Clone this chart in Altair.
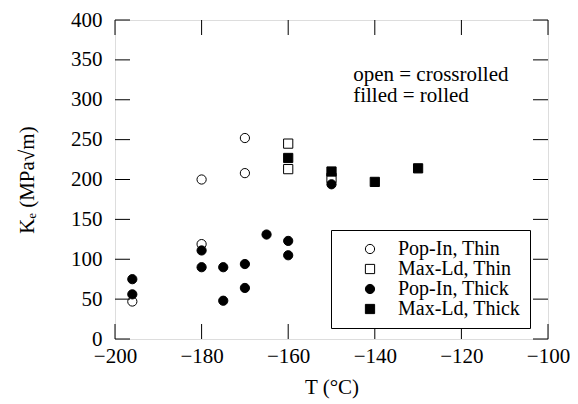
import altair as alt
import pandas as pd

# ---- data ----
pop_thin_T = [-196, -180, -180, -170, -170]
pop_thin_K = [47, 200, 119, 252, 208]
max_thin_T = [-160, -160, -150]
max_thin_K = [245, 213, 202]
pop_thick_T = [-196, -196, -180, -180, -175, -175, -170, -170, -165, -160, -160, -150]
pop_thick_K = [75, 56, 111, 90, 90, 48, 94, 64, 131, 123, 105, 194]
max_thick_T = [-160, -150, -140, -130]
max_thick_K = [227, 210, 197, 214]

series_names = ["Pop-In, Thin", "Max-Ld, Thin", "Pop-In, Thick", "Max-Ld, Thick"]
series_shapes = ["circle", "square", "circle", "square"]
series_fills = ["white", "white", "black", "black"]
series_strokes = ["black", "black", "black", "black"]

x_ticks = [-200, -180, -160, -140, -120, -100]
y_ticks = [0, 50, 100, 150, 200, 250, 300, 350, 400]

note_lines = ["open = crossrolled", "filled = rolled"]
note_T = -145
note_K = [331, 305]

rows = []
for name, Ts, Ks in zip(series_names,
                        [pop_thin_T, max_thin_T, pop_thick_T, max_thick_T],
                        [pop_thin_K, max_thin_K, pop_thick_K, max_thick_K]):
    for t, k in zip(Ts, Ks):
        rows.append({"T": t, "K": k, "series": name})
df = pd.DataFrame(rows)

W, H = 433, 319
FONT = "Liberation Serif"
FS = 21

xscale = alt.Scale(domain=[-200, -100], nice=False, zero=False)
yscale = alt.Scale(domain=[0, 400], nice=False)

x_axis = alt.Axis(values=x_ticks, title="T (°C)", orient="bottom", domain=False, ticks=False,
                  grid=False, labelPadding=6, titlePadding=10, labelFontSize=FS, titleFontSize=FS,
                  labelFont=FONT, titleFont=FONT, titleFontWeight="normal",
                  labelColor="black", titleColor="black",
                  labelOverlap=False, labelFlush=False)
y_axis = alt.Axis(values=y_ticks, title="Kₑ (MPa√m)", orient="left", domain=False, ticks=False,
                  grid=False, labelPadding=13, titlePadding=33, labelFontSize=FS, titleFontSize=FS,
                  labelFont=FONT, titleFont=FONT, titleFontWeight="normal",
                  labelColor="black", titleColor="black",
                  labelOverlap=False, labelFlush=False)

legend_kw = dict(title=None, orient="none", legendX=216, legendY=210,
                 strokeColor="black", padding=9, symbolOffset=20,
                 labelOffset=18, rowPadding=0, labelFontSize=20,
                 labelFont=FONT, labelColor="black", symbolSize=85,
                 symbolStrokeWidth=1, fillColor="white")

points = alt.Chart(df).mark_point(strokeWidth=1, size=85, opacity=1).encode(
    x=alt.X("T:Q", scale=xscale, axis=x_axis),
    y=alt.Y("K:Q", scale=yscale, axis=y_axis),
    shape=alt.Shape("series:N", scale=alt.Scale(domain=series_names, range=series_shapes),
                    legend=alt.Legend(**legend_kw)),
    fill=alt.Fill("series:N", scale=alt.Scale(domain=series_names, range=series_fills),
                  legend=alt.Legend(**legend_kw)),
    stroke=alt.Stroke("series:N", scale=alt.Scale(domain=series_names, range=series_strokes),
                      legend=alt.Legend(**legend_kw)),
)

xt = pd.DataFrame({"t": x_ticks})
yt = pd.DataFrame({"v": y_ticks})
TL = 15
bottom_ticks = alt.Chart(xt).mark_rule(color="black", strokeWidth=1).encode(
    x=alt.X("t:Q", scale=xscale, axis=None), y=alt.value(H), y2=alt.value(H - TL))
top_ticks = alt.Chart(xt).mark_rule(color="black", strokeWidth=1).encode(
    x=alt.X("t:Q", scale=xscale, axis=None), y=alt.value(0), y2=alt.value(TL))
left_ticks = alt.Chart(yt).mark_rule(color="black", strokeWidth=1).encode(
    y=alt.Y("v:Q", scale=yscale, axis=None), x=alt.value(0), x2=alt.value(TL))
right_ticks = alt.Chart(yt).mark_rule(color="black", strokeWidth=1).encode(
    y=alt.Y("v:Q", scale=yscale, axis=None), x=alt.value(W - TL), x2=alt.value(W))

note_df = pd.DataFrame({"T": [note_T] * len(note_lines), "K": note_K, "txt": note_lines})
note = alt.Chart(note_df).mark_text(align="left", baseline="middle", font=FONT, fontSize=FS,
                                     color="black").encode(
    x=alt.X("T:Q", scale=xscale, axis=None), y=alt.Y("K:Q", scale=yscale, axis=None),
    text="txt:N")

chart = alt.layer(points, bottom_ticks, top_ticks, left_ticks, right_ticks, note).resolve_axis(
    x="independent", y="independent"
).properties(
    width=W, height=H,
    autosize=alt.AutoSizeParams(type="none"),
    padding={"left": 107, "top": 12, "right": 22, "bottom": 60},
).configure_view(stroke="black", strokeWidth=1).configure(background="white")

chart.save("out.html", embed_options={"renderer": "svg", "actions": False})
